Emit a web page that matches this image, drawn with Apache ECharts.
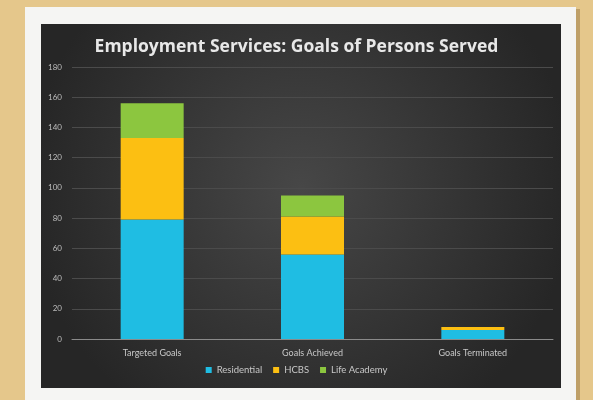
<!DOCTYPE html>
<html><head><meta charset="utf-8">
<script src="https://cdn.jsdelivr.net/npm/echarts@6/dist/echarts.min.js"></script>
<style>html,body{margin:0;padding:0;background:#e5c78b;}#c{width:593px;height:400px;}</style>
</head><body><div id="c"></div>
<script>
const categories = ['Targeted Goals', 'Goals Achieved', 'Goals Terminated'];
const residential = [79, 56, 6];
const hcbs = [54, 25, 2];
const lifeAcademy = [23, 14, 0];
const yTicks = [0, 20, 40, 60, 80, 100, 120, 140, 160, 180];

const chart = echarts.init(document.getElementById('c'));
chart.setOption({
  backgroundColor: '#e5c78b',
  animation: false,
  graphic: [
    { type: 'rect', z: -10, silent: true, shape: { x: 27, y: 9, width: 553, height: 400 }, style: { fill: 'rgba(120,90,40,0.35)' } },
    { type: 'rect', z: -9, silent: true, shape: { x: 25, y: 7, width: 551, height: 400 }, style: { fill: '#f5f5f3' } },
    { type: 'rect', z: -8, silent: true, shape: { x: 41, y: 24, width: 520, height: 364 },
      style: { fill: new echarts.graphic.RadialGradient(0.5, 0.45, 0.75, [
        { offset: 0, color: '#474747' }, { offset: 1, color: '#262626' }]) } }
  ],
  title: {
    text: 'Employment Services: Goals of Persons Served',
    left: 'center', top: 33,
    textStyle: { color: '#e8e8e8', fontFamily: 'Open Sans', fontWeight: 'bold', fontSize: 17.5 }
  },
  legend: {
    bottom: 20, left: 'center', itemWidth: 6, itemHeight: 6, itemGap: 11, icon: 'rect',
    textStyle: { color: '#c8c8c8', fontFamily: 'Lato', fontSize: 9.5 },
    data: ['Residential', 'HCBS', 'Life Academy']
  },
  grid: { left: 72, right: 40, top: 67, bottom: 61 },
  xAxis: {
    type: 'category', data: categories,
    axisLine: { lineStyle: { color: '#8a8a8a', width: 1 } },
    axisTick: { show: false },
    axisLabel: { color: '#c8c8c8', fontFamily: 'Lato', fontSize: 9, margin: 10 }
  },
  yAxis: {
    type: 'value', min: yTicks[0], max: yTicks[yTicks.length - 1], interval: 20,
    axisLine: { show: false }, axisTick: { show: false },
    axisLabel: { color: '#bdbdbd', fontFamily: 'Lato', fontSize: 8, margin: 10 },
    splitLine: { lineStyle: { color: '#4b4b4b', width: 1 } }
  },
  series: [
    { name: 'Residential', type: 'bar', stack: 'a', barWidth: 63, data: residential, itemStyle: { color: '#1fbde3' } },
    { name: 'HCBS', type: 'bar', stack: 'a', barWidth: 63, data: hcbs, itemStyle: { color: '#fcbf12' } },
    { name: 'Life Academy', type: 'bar', stack: 'a', barWidth: 63, data: lifeAcademy, itemStyle: { color: '#8cc63f' } }
  ]
});
</script></body></html>
